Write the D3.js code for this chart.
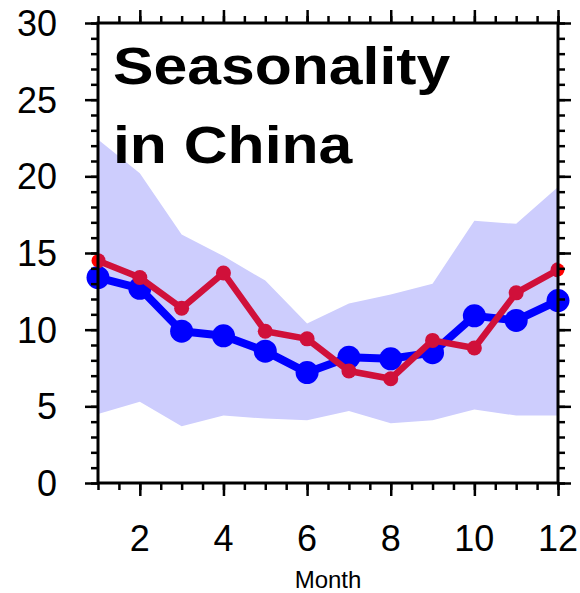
<!DOCTYPE html>
<html>
<head>
<meta charset="utf-8">
<script src="https://cdn.jsdelivr.net/npm/d3@7"></script>
<style>
  html, body { margin: 0; padding: 0; background: #fff; }
  svg { display: block; }
  text { font-family: "Liberation Sans", Arial, Helvetica, sans-serif; fill: #000; }
</style>
</head>
<body>
<svg id="chart" width="580" height="593"></svg>
<script>
// Monthly values
const months = [1, 2, 3, 4, 5, 6, 7, 8, 9, 10, 11, 12];
const blueSeries = [13.4, 12.7, 9.9, 9.6, 8.6, 7.2, 8.2, 8.1, 8.5, 10.9, 10.6, 11.9];
const redSeries = [14.5, 13.4, 11.4, 13.7, 9.9, 9.4, 7.3, 6.8, 9.3, 8.8, 12.4, 13.9];
const bandUpper = [22.4, 20.2, 16.2, 14.8, 13.2, 10.4, 11.7, 12.3, 13.0, 17.1, 16.9, 19.3];
const bandLower = [4.5, 5.3, 3.7, 4.4, 4.2, 4.1, 4.7, 3.9, 4.1, 4.8, 4.4, 4.4];
const xTickLabels = [2, 4, 6, 8, 10, 12];
const yTickLabels = [0, 5, 10, 15, 20, 25, 30];
const titleLines = ["Seasonality", "in China"];
const xTitle = "Month";

const svg = d3.select("#chart");
const plotL = 98, plotR = 558, plotT = 23, plotB = 483;

const x = d3.scaleLinear().domain([1, 12]).range([plotL, plotR]);
const y = d3.scaleLinear().domain([0, 30]).range([plotB, plotT]);

// clip region for the plot interior
svg.append("defs").append("clipPath").attr("id", "plotClip")
  .append("rect").attr("x", plotL).attr("y", plotT)
  .attr("width", plotR - plotL).attr("height", plotB - plotT);

// spread band
const band = d3.area()
  .x((d, i) => x(months[i]))
  .y0((d, i) => y(bandLower[i]))
  .y1((d, i) => y(bandUpper[i]));
svg.append("path").datum(bandUpper)
  .attr("d", band).attr("fill", "#cdcdfd");

// blue series
const line = d3.line().x((d, i) => x(months[i])).y(d => y(d));
svg.append("path").datum(blueSeries)
  .attr("d", line).attr("fill", "none")
  .attr("stroke", "#0000ff").attr("stroke-width", 8).attr("stroke-linejoin", "round");
svg.append("g").selectAll("circle").data(blueSeries).join("circle")
  .attr("cx", (d, i) => x(months[i])).attr("cy", d => y(d))
  .attr("r", 11.5).attr("fill", "#0000ff");

// red series: bright red dots under a crimson line clipped to the frame
svg.append("g").selectAll("circle").data(redSeries).join("circle")
  .attr("cx", (d, i) => x(months[i])).attr("cy", d => y(d))
  .attr("r", 6.5).attr("fill", "#ff0000");
const redG = svg.append("g").attr("clip-path", "url(#plotClip)");
redG.append("path").datum(redSeries)
  .attr("d", line).attr("fill", "none")
  .attr("stroke", "#d0103a").attr("stroke-width", 6.5).attr("stroke-linejoin", "round");
redG.selectAll("circle").data(redSeries).join("circle")
  .attr("cx", (d, i) => x(months[i])).attr("cy", d => y(d))
  .attr("r", 7.5).attr("fill", "#d0103a");

// axes: major and minor ticks on all four sides, pointing outward
const xMinor = d3.range(1, 12.01, 0.5);
const yMinor = d3.range(0, 30.01, 1);
function styleAxis(g) {
  g.select(".domain").remove();
  g.selectAll(".tick line").attr("stroke", "#000").attr("stroke-width", 2.5);
  g.selectAll(".tick text").remove();
}
[[d3.axisBottom, plotB], [d3.axisTop, plotT]].forEach(([ax, pos]) => {
  svg.append("g").attr("transform", `translate(0,${pos})`)
    .call(ax(x).tickValues(xMinor).tickSize(7)).call(styleAxis);
  svg.append("g").attr("transform", `translate(0,${pos})`)
    .call(ax(x).tickValues(xTickLabels).tickSize(13)).call(styleAxis);
});
[[d3.axisLeft, plotL], [d3.axisRight, plotR]].forEach(([ax, pos]) => {
  svg.append("g").attr("transform", `translate(${pos},0)`)
    .call(ax(y).tickValues(yMinor).tickSize(7)).call(styleAxis);
  svg.append("g").attr("transform", `translate(${pos},0)`)
    .call(ax(y).tickValues(yTickLabels).tickSize(13)).call(styleAxis);
});

// frame
svg.append("rect").attr("x", plotL).attr("y", plotT)
  .attr("width", plotR - plotL).attr("height", plotB - plotT)
  .attr("fill", "none").attr("stroke", "#000").attr("stroke-width", 3);

// tick labels
svg.append("g").selectAll("text").data(yTickLabels).join("text")
  .attr("x", 57).attr("y", d => y(d)).attr("dy", "0.36em")
  .attr("text-anchor", "end").attr("font-size", 36).text(d => d);
svg.append("g").selectAll("text").data(xTickLabels).join("text")
  .attr("x", d => x(d)).attr("y", 551)
  .attr("text-anchor", "middle").attr("font-size", 36).text(d => d);

// axis title
svg.append("text").attr("x", (plotL + plotR) / 2).attr("y", 588)
  .attr("text-anchor", "middle").attr("font-size", 24).text(xTitle);

// chart title
const titleBaselines = [83.5, 163];
titleLines.forEach((t, i) => {
  svg.append("text")
    .attr("transform", `translate(113,${titleBaselines[i]}) scale(1.19,1)`)
    .attr("font-size", 51).attr("font-weight", "bold").text(t);
});
</script>
</body>
</html>
